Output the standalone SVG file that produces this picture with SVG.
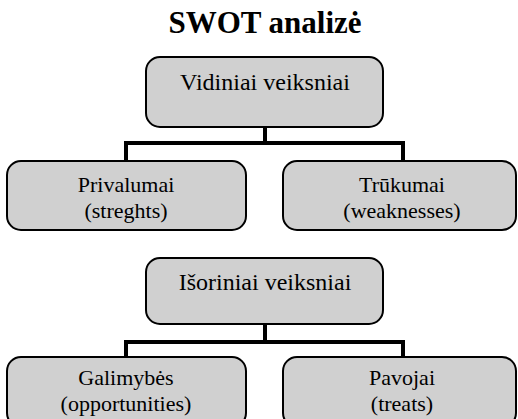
<svg xmlns="http://www.w3.org/2000/svg" width="518" height="419" viewBox="0 0 518 419">
  <style>
    .box { fill: #d0d0d0; stroke: #000; stroke-width: 2; }
    .lbl { font-family: "Liberation Serif", "Times New Roman", serif; font-size: 22px; fill: #000; text-anchor: middle; }
    .head { font-size: 24px; }
    .title { font-family: "Liberation Serif", "Times New Roman", serif; font-size: 31px; font-weight: bold; fill: #000; text-anchor: middle; }
    .conn { fill: none; stroke: #000; stroke-width: 4; }
  </style>
  <rect width="518" height="419" fill="#fff"/>
  <text class="title" x="265" y="33">SWOT analizė</text>

  <g id="connectors">
    <path class="conn" d="M265 127 V143 M126 162 V143 H403 V162"/>
    <path class="conn" d="M265 324 V342 M126 357 V342 H403 V357"/>
  </g>

  <g id="vidiniai">
    <rect class="box" x="146" y="57" width="237" height="70" rx="14"/>
    <text class="lbl head" x="265" y="90">Vidiniai veiksniai</text>
  </g>
  <g id="privalumai">
    <rect class="box" x="7" y="161" width="239" height="69" rx="14"/>
    <text class="lbl" x="126" y="192">Privalumai</text>
    <text class="lbl" x="126" y="218">(streghts)</text>
  </g>
  <g id="trukumai">
    <rect class="box" x="283" y="161" width="233" height="69" rx="14"/>
    <text class="lbl" x="402" y="192">Trūkumai</text>
    <text class="lbl" x="402" y="218">(weaknesses)</text>
  </g>
  <g id="isoriniai">
    <rect class="box" x="146" y="258" width="237" height="66" rx="14"/>
    <text class="lbl head" x="265" y="290">Išoriniai veiksniai</text>
  </g>
  <g id="galimybes">
    <rect class="box" x="7" y="357" width="239" height="70" rx="14"/>
    <text class="lbl" x="126" y="385">Galimybės</text>
    <text class="lbl" x="126" y="411">(opportunities)</text>
  </g>
  <g id="pavojai">
    <rect class="box" x="283" y="357" width="233" height="70" rx="14"/>
    <text class="lbl" x="402" y="385">Pavojai</text>
    <text class="lbl" x="402" y="411">(treats)</text>
  </g>
</svg>
